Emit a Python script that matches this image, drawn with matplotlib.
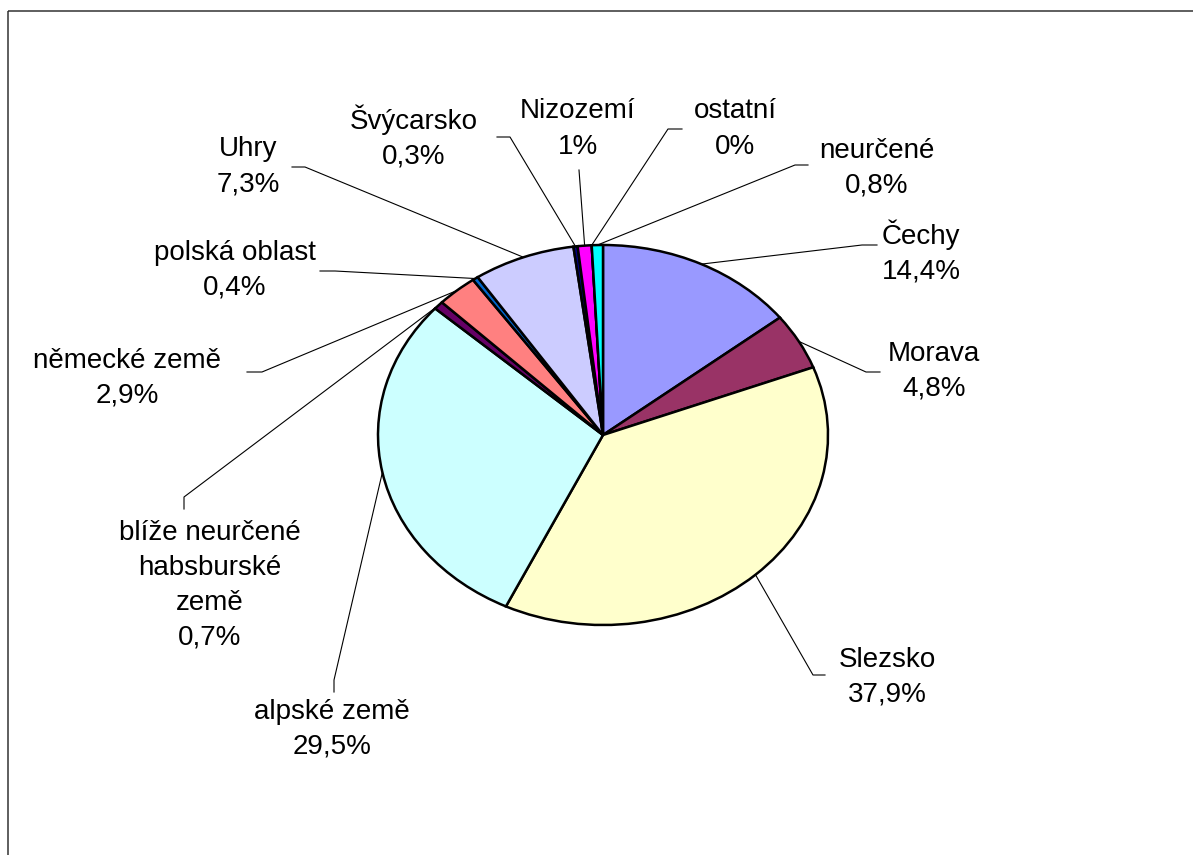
import matplotlib.pyplot as plt
from matplotlib.patches import Rectangle
import numpy as np

# podíly podle oblasti původu (po směru hodinových ručiček od 12 hodin)
regions = ['Čechy', 'Morava', 'Slezsko', 'alpské země',
           'blíže neurčené\nhabsburské\nzemě', 'německé země', 'polská oblast',
           'Uhry', 'Švýcarsko', 'Nizozemí', 'ostatní', 'neurčené']
shares = [14.4, 4.8, 37.9, 29.5, 0.7, 2.9, 0.4, 7.3, 0.3, 1, 0, 0.8]
colors = ['#9999FF', '#993366', '#FFFFCC', '#CCFFFF', '#660066', '#FF8080',
          '#0066CC', '#CCCCFF', '#000080', '#FF00FF', '#FFFF00', '#00FFFF']

# rozložení popisků v pixelech: střed textu, zlom vodicí čáry, konec čáry
label_xy = [(921, 252), (934, 371), (887, 677), (332, 729), (210, 585), (127, 378),
            (235, 270), (248, 167), (414, 137), (578, 129), (735, 129), (877, 168)]
elbow_xy = [(862, 245), (866, 372), (813, 675), (334, 680), (184, 497), (262, 372),
            (335, 271), (305, 167), (510, 137), (579, 170), (668, 129), (795, 165)]
end_xy = [(877, 245), (880, 372), (825, 675), (334, 692), (184, 509), (247, 372),
          (320, 271), (292, 167), (497, 137), (579, 170), (682, 129), (808, 165)]

plt.rcParams['font.family'] = ['Liberation Sans', 'DejaVu Sans']

W, H = 1193, 855
fig = plt.figure(figsize=(W / 100, H / 100), dpi=100)

cx, cy, rx, ry = 603, 435, 225, 190
pax = fig.add_axes([(cx - rx) / W, (H - cy - ry) / H, 2 * rx / W, 2 * ry / H])
wedges, _ = pax.pie(shares, colors=colors, startangle=90, counterclock=False,
                    wedgeprops=dict(edgecolor='black', linewidth=1.8))
pax.set_aspect('auto')
pax.set_xlim(-1, 1)
pax.set_ylim(-1, 1)
pax.axis('off')
for w in wedges:
    w.set_clip_on(False)

# překryvná osa v pixelech (y dolů)
ov = fig.add_axes([0, 0, 1, 1], zorder=5)
ov.set_xlim(0, W)
ov.set_ylim(H, 0)
ov.axis('off')

ov.add_patch(Rectangle((8, 11), W + 20, H + 20, fill=False, edgecolor='#333333',
                       linewidth=1.1, clip_on=False))

for i, w in enumerate(wedges):
    th = np.deg2rad((w.theta1 + w.theta2) / 2)
    disp = pax.transData.transform((np.cos(th), np.sin(th)))
    sx, sy = ov.transData.inverted().transform(disp)
    ex, ey = elbow_xy[i]
    fx, fy = end_xy[i]
    ov.plot([sx, ex, fx], [sy, ey, fy], color='black', linewidth=0.8)
    pct = f"{shares[i]:g}".replace('.', ',') + '%'
    tx, ty = label_xy[i]
    ov.text(tx, ty, regions[i] + '\n' + pct, ha='center', va='center',
            fontsize=20, linespacing=1.45, color='black')

fig.savefig('out.png', dpi=100)
